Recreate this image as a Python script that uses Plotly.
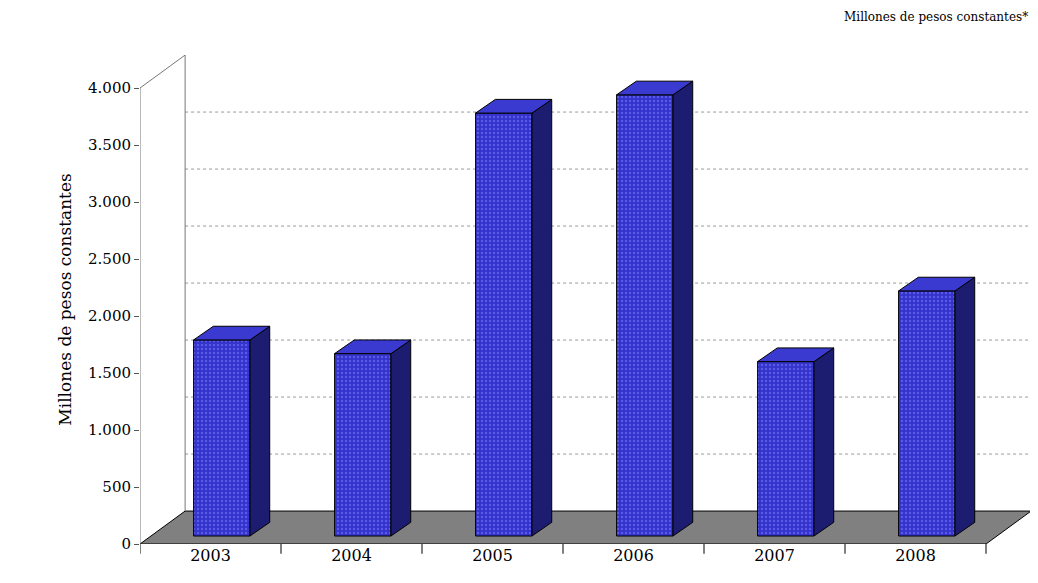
import plotly.graph_objects as go

years = ["2003", "2004", "2005", "2006", "2007", "2008"]
values = [1720, 1600, 3710, 3870, 1530, 2150]
tick_values = [0, 500, 1000, 1500, 2000, 2500, 3000, 3500, 4000]
tick_labels = ["0", "500", "1.000", "1.500", "2.000", "2.500", "3.000", "3.500", "4.000"]

# 3D look parameters (in data units)
DX, DY = 0.32, 289      # depth of the box
BX, BY = 0.08, 70       # bar placed half-way into the depth
BW = 0.40               # bar width
BDX, BDY = 0.14, 120    # bar depth

fig = go.Figure()
xs = [i + BX for i in range(len(years))]

shapes = []
# floor
shapes.append(dict(type="path", xref="x", yref="y",
                   path=f"M -0.5,0 L 5.5,0 L {5.5+DX},{DY} L {-0.5+DX},{DY} Z",
                   fillcolor="#808080", line=dict(color="black", width=1), layer="below"))
# back wall gridlines
for v in tick_values[1:-1]:
    shapes.append(dict(type="line", xref="x", yref="y", x0=-0.5 + DX, x1=5.5 + DX,
                       y0=v + DY, y1=v + DY, line=dict(color="#999", width=1, dash="dot"), layer="below"))
# walls outline
top = 4000 + DY
shapes.append(dict(type="path", xref="x", yref="y",
                   path=f"M {-0.5+DX},{DY} L {-0.5+DX},{top} L -0.5,4000 L -0.5,0",
                   line=dict(color="#777", width=1), layer="below"))

for x, v in zip(xs, values):
    l, r = x - BW / 2, x + BW / 2
    y0, y1 = BY, BY + v
    shapes.append(dict(type="path", xref="x", yref="y",
                       path=f"M {r},{y0} L {r+BDX},{y0+BDY} L {r+BDX},{y1+BDY} L {r},{y1} Z",
                       fillcolor="#1c1c70", line=dict(color="black", width=1)))
    shapes.append(dict(type="path", xref="x", yref="y",
                       path=f"M {l},{y1} L {r},{y1} L {r+BDX},{y1+BDY} L {l+BDX},{y1+BDY} Z",
                       fillcolor="#3a3ad0", line=dict(color="black", width=1)))

fig.add_trace(go.Bar(
    x=xs, y=values, base=BY, width=BW,
    marker=dict(color="#3333cc", line=dict(color="black", width=1),
                pattern=dict(shape=".", fgcolor="#8080ff", size=4, solidity=0.3)),
    showlegend=False, hoverinfo="skip",
))

fig.update_layout(
    width=1038, height=583,
    margin=dict(l=132, r=16, t=47, b=47),
    plot_bgcolor="white", paper_bgcolor="white",
    font=dict(family="DejaVu Serif", size=15, color="black"),
    shapes=shapes,
    xaxis=dict(range=[-0.5, -0.5 + 890 / 141], tickvals=list(range(6)), ticktext=years,
               showgrid=False, zeroline=False, showline=False, ticks="", automargin=False,
               tickfont=dict(size=16)),
    yaxis=dict(range=[0, 4000 * 489 / 456], tickvals=tick_values, ticktext=tick_labels,
               showgrid=False, zeroline=False, showline=False,
               ticks="outside", ticklen=5, tickcolor="#555", automargin=False,
               title=dict(text="Millones de pesos constantes", standoff=12, font=dict(size=17))),
    annotations=[dict(text="Millones de pesos constantes*", xref="paper", yref="paper",
                      x=1.0, y=1.0, yshift=38, xanchor="right", yanchor="middle",
                      showarrow=False, font=dict(size=12))],
)
# front axis ticks at category boundaries
for b in [i + 0.5 for i in range(-1, 6)]:
    fig.add_shape(type="line", xref="x", yref="paper", x0=b, x1=b, y0=0, y1=-0.02,
                  line=dict(color="black", width=1))

fig.write_html("out.html")
